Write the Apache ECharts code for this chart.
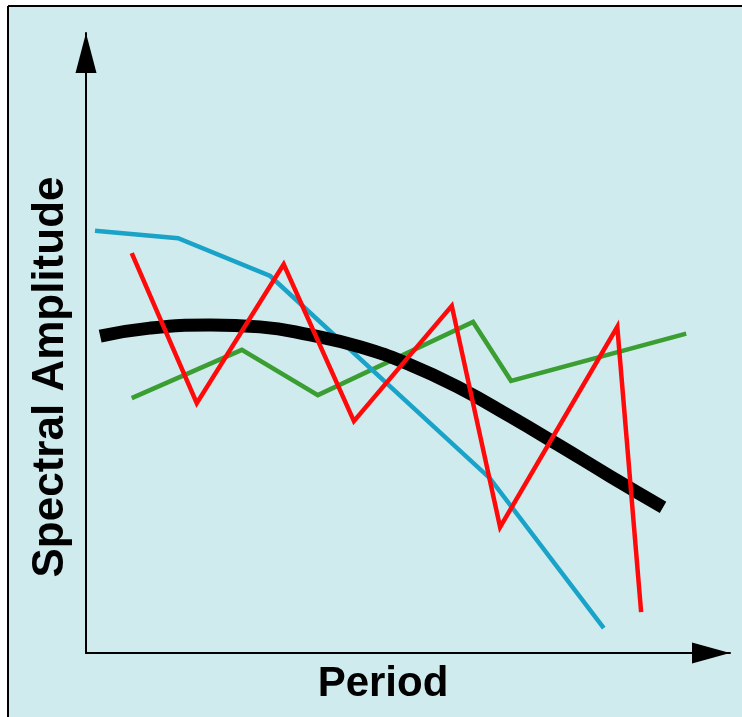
<!DOCTYPE html>
<html>
<head>
<meta charset="utf-8">
<script src="https://cdn.jsdelivr.net/npm/echarts@6/dist/echarts.min.js"></script>
<style>
html,body{margin:0;padding:0;background:#ffffff;overflow:hidden;}
#chart{width:742px;height:717px;}
</style>
</head>
<body>
<div id="chart"></div>
<script>
// Schematic values (arbitrary units, 0-100 on both axes)
const xTitle = 'Period';
const yTitle = 'Spectral Amplitude';

const blackCurve = [
  [2.2, 51.1], [9.9, 52.4], [19.3, 52.9], [27.0, 52.6], [34.8, 51.3],
  [42.5, 49.4], [50.3, 46.5], [58.1, 42.7], [65.8, 38.2], [73.6, 33.4],
  [81.4, 28.5], [89.6, 23.5]
];
const redLine = [
  [7.1, 64.5], [17.2, 40.3], [30.7, 62.7], [41.6, 37.4],
  [56.8, 56.0], [64.3, 20.3], [82.5, 52.6], [86.2, 6.6]
];
const cyanLine = [
  [1.4, 68.1], [14.3, 66.9], [28.6, 60.8], [62.7, 28.2], [80.4, 4.0]
];
const greenLine = [
  [7.1, 41.1], [24.2, 48.9], [36.0, 41.6], [60.1, 53.4], [66.0, 43.9], [93.2, 51.5]
];

const chart = echarts.init(document.getElementById('chart'), null, {renderer: 'canvas'});
const bg = '#cfebed';

function lineSeries(data, color, width, smooth, z) {
  return {
    type: 'line', data: data, smooth: smooth, showSymbol: false, symbol: 'none',
    lineStyle: {color: color, width: width, cap: 'butt', join: 'miter'},
    emphasis: {disabled: true}, silent: true, z: z
  };
}

chart.setOption({
  animation: false,
  backgroundColor: '#ffffff',
  graphic: [
    {type: 'rect', z: -10, shape: {x: 8, y: 6, width: 900, height: 900},
     style: {fill: bg}},
    {type: 'line', z: -9, shape: {x1: 8, y1: 6, x2: 742, y2: 6}, style: {stroke: '#000', lineWidth: 2}},
    {type: 'line', z: -9, shape: {x1: 8, y1: 6, x2: 8, y2: 717}, style: {stroke: '#000', lineWidth: 2}},
    {type: 'text', x: 51, y: 377, rotation: Math.PI / 2, z: 10,
     style: {text: yTitle, fontFamily: 'Liberation Sans', fontWeight: 'bold', fontSize: 44,
       fill: '#000', align: 'center', verticalAlign: 'middle'}},
    {type: 'text', x: 383, y: 684, z: 10,
     style: {text: xTitle, fontFamily: 'Liberation Sans', fontWeight: 'bold', fontSize: 42,
       fill: '#000', align: 'center', verticalAlign: 'middle'}}
  ],
  grid: {left: 86, top: 33, right: 12, bottom: 64, containLabel: false, outerBoundsMode: 'none'},
  xAxis: {
    type: 'value', min: 0, max: 100,
    axisLine: {show: true, onZero: false, symbol: ['none', 'triangle'], symbolSize: [21, 38], symbolOffset: [0, -19],
      lineStyle: {color: '#000', width: 2}},
    axisTick: {show: false}, axisLabel: {show: false}, splitLine: {show: false}
  },
  yAxis: {
    type: 'value', min: 0, max: 100,
    axisLine: {show: true, onZero: false, symbol: ['none', 'triangle'], symbolSize: [21, 40], symbolOffset: [0, -20],
      lineStyle: {color: '#000', width: 2}},
    axisTick: {show: false}, axisLabel: {show: false}, splitLine: {show: false}
  },
  series: [
    lineSeries(greenLine, '#3a9e32', 4.5, false, 2),
    lineSeries(cyanLine, '#1aa3c9', 4.5, false, 3),
    lineSeries(blackCurve, '#000000', 13, true, 4),
    lineSeries(redLine, '#ff0a0a', 4.5, false, 5)
  ]
});
</script>
</body>
</html>
